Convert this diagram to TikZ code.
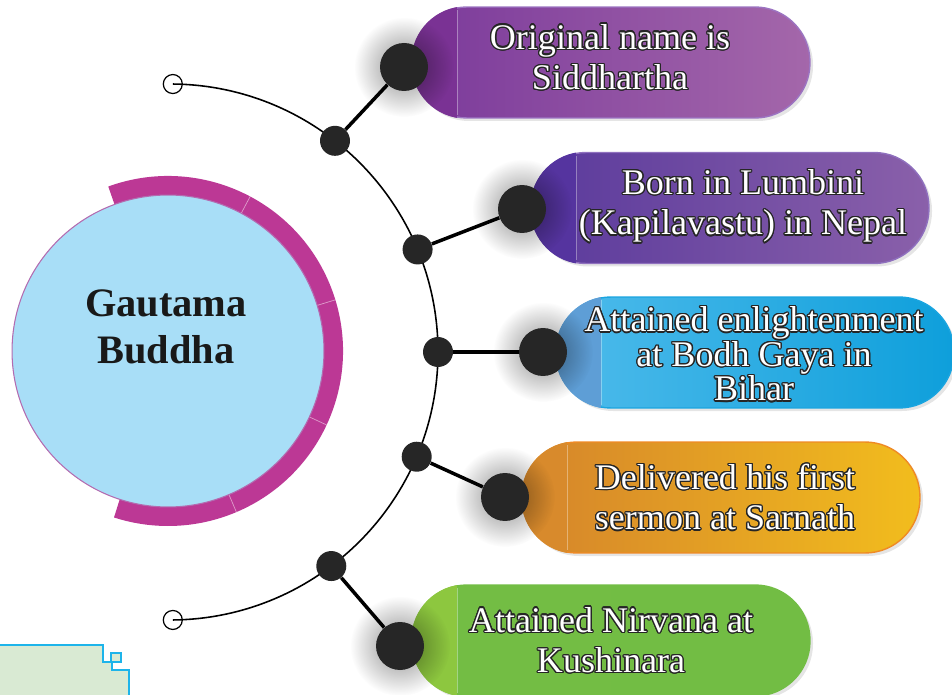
\documentclass[tikz,border=0pt]{standalone}
\usepackage{fontspec}
\setmainfont{Liberation Serif}
\usetikzlibrary{calc,fadings}

\definecolor{hubfill}{HTML}{A8DEF7}
\definecolor{hubline}{HTML}{B36BB0}
\definecolor{ringpink}{HTML}{BC3895}
\definecolor{dotdark}{HTML}{262626}
\definecolor{cornerfill}{HTML}{D9EAD3}
\definecolor{cornerline}{HTML}{1DB4EA}
% pill colours: left, right, panel, border
\definecolor{violetL}{HTML}{7B3A9B}
\definecolor{violetR}{HTML}{A467AA}
\definecolor{violetP}{HTML}{7A3294}
\definecolor{violetB}{HTML}{9C74C2}
\definecolor{indigoL}{HTML}{5A3A9C}
\definecolor{indigoR}{HTML}{8A60AA}
\definecolor{indigoP}{HTML}{55349F}
\definecolor{indigoB}{HTML}{8F70BE}
\definecolor{skyL}{HTML}{4EBBEB}
\definecolor{skyR}{HTML}{0E9FDB}
\definecolor{skyP}{HTML}{5E9ED6}
\definecolor{skyB}{HTML}{1AA5E0}
\definecolor{amberL}{HTML}{D5842B}
\definecolor{amberR}{HTML}{F2BD1D}
\definecolor{amberP}{HTML}{D88A2C}
\definecolor{amberB}{HTML}{EF8A25}
\definecolor{leafL}{HTML}{73BD44}
\definecolor{leafR}{HTML}{72BD44}
\definecolor{leafP}{HTML}{8DC73F}
\definecolor{leafB}{HTML}{72BD44}

\tikzfading[name=knobglow, inner color=transparent!0, outer color=transparent!100]

\tikzstyle{hub} = [circle, minimum size=6.24cm, fill=hubfill, draw=hubline, line width=0.6pt]
\tikzstyle{endmark} = [circle, minimum size=0.38cm, inner sep=0pt, draw=black, line width=0.7pt]
\tikzstyle{joint} = [circle, minimum size=0.6cm, inner sep=0pt, fill=dotdark]
\tikzstyle{knob} = [circle, minimum size=0.96cm, inner sep=0pt, fill=dotdark]
\tikzstyle{pill} = [rectangle, rounded corners=1.1cm, minimum width=7.96cm, minimum height=2.22cm, line width=0.8pt]
\tikzstyle{spine} = [line width=0.9pt, black]
\tikzstyle{stem} = [line width=2pt, black]
\tikzstyle{itemtext} = [align=center, inner sep=0pt, font=\fontsize{20.5}{23}\selectfont]

% white lettering with a thin dark rim
\newcommand{\rimtext}[3]{%
  \foreach \a in {0,22.5,...,337.5}
    \node[itemtext, text=black!85, #2] at ($(#1)+(\a:1.3)$) {#3};
  \node[itemtext, text=white, #2] at (#1) {#3};
}

\begin{document}
\begin{tikzpicture}[x=0.02cm, y=-0.02cm]
\useasboundingbox (0,0) rectangle (952,695);

% corner tab
\fill[cornerfill] (-2,645) -- (103,645) -- (103,662) -- (112,662) -- (112,670) -- (129,670) -- (129,697) -- (-2,697) -- cycle;
\draw[cornerline, line width=1.1pt] (-2,645) -- (103,645) -- (103,662) -- (112,662) -- (112,670) -- (129,670) -- (129,697);
\draw[cornerline, line width=1.1pt, fill=cornerfill] (111,653) rectangle (121,662);

% ring and hub
\coordinate (core) at (168,351);
\draw[ringpink, line width=0.4cm] (core) ++(-110:165) arc[start angle=-110, end angle=108, radius=165];
\foreach \a in {-62,-17,25,67}
  \draw[white, opacity=0.5, line width=0.4pt] ($(core)+(\a:154)$) -- ($(core)+(\a:175)$);
\node[hub] (buddha) at (core) {};
\node[font=\fontsize{23}{27}\selectfont\bfseries, align=center, text=black!90] (title) at (166,327) {Gautama\\Buddha};

% spine
\coordinate (hinge) at (170,352);
\node[endmark] (topend) at ($(hinge)+(-89.4:268)$) {};
\node[endmark] (lowend) at ($(hinge)+(89.4:268)$) {};
\draw[spine] (topend.center) arc[start angle=-89.4, end angle=89.4, radius=268];

\foreach \n/\cx/\cy/\tone/\kx/\ky/\ang in {1/611/62.5/violet/404/67/-52, 2/730/208/indigo/522/209/-22.5,
  3/755/352.5/sky/543/352/0, 4/721/497.5/amber/505/497/23, 5/611/640.5/leaf/400/646/53}
{
  \fill[black, opacity=0.1, rounded corners=1.1cm] ($(\cx,\cy)+(-197,-52.5)$) rectangle ($(\cx,\cy)+(202,58.5)$);
  \node[pill, left color=\tone L, right color=\tone R, draw=\tone B] (box\n) at (\cx,\cy) {};
  \begin{scope}
    \clip[rounded corners=1.1cm] (box\n.north west) rectangle (box\n.south east);
    \fill[\tone P] (box\n.north west) rectangle ($(box\n.south west)+(46,0)$);
  \end{scope}
  \draw[white, opacity=0.35, line width=0.4pt] ($(box\n.north west)+(46,4)$) -- ($(box\n.south west)+(46,-4)$);
  \fill[black, opacity=0.45, path fading=knobglow] (\kx,\ky) circle (50);
  \node[joint] (joint\n) at ($(hinge)+(\ang:268)$) {};
  \node[knob] (knob\n) at (\kx,\ky) {};
  \draw[stem] (joint\n) -- (knob\n);
}

% captions
\coordinate (text1) at (610,57);
\coordinate (text2) at (743,206);
\coordinate (text3) at (754,354);
\coordinate (text4) at (725,497);
\coordinate (text5) at (611,640);
\rimtext{text1}{}{Original name is\\Siddhartha}
\rimtext{text2}{}{Born in Lumbini\\(Kapilavastu) in Nepal}
\rimtext{text3}{font=\fontsize{20.5}{17}\selectfont}{Attained enlightenment\\at Bodh Gaya in\\Bihar}
\rimtext{text4}{}{Delivered his first\\sermon at Sarnath}
\rimtext{text5}{}{Attained Nirvana at\\Kushinara}

\end{tikzpicture}
\end{document}
